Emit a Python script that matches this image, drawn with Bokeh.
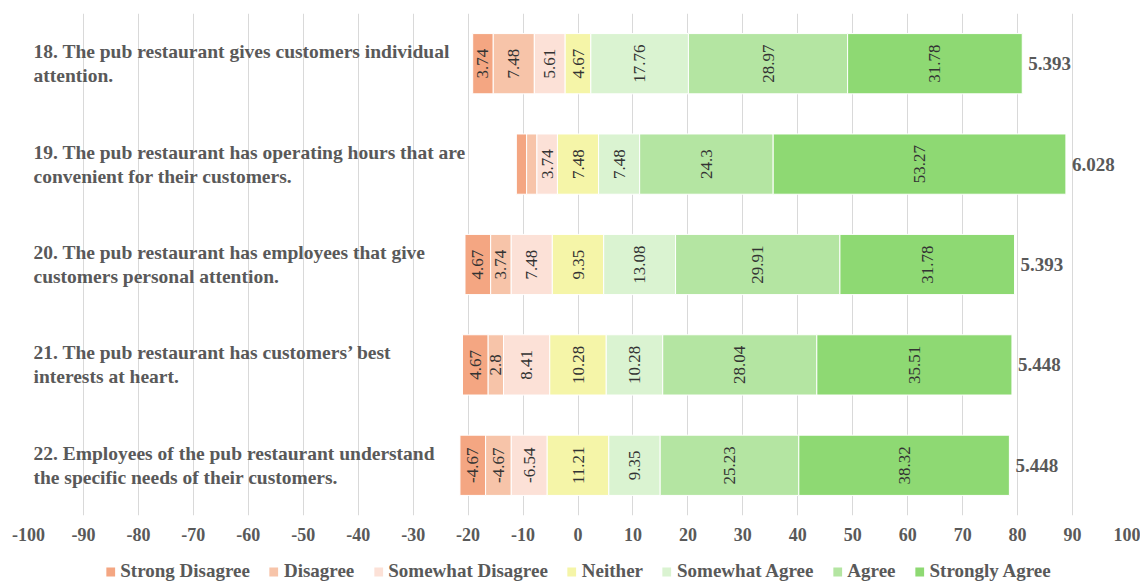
import math
from bokeh.plotting import figure
from bokeh.layouts import column
from bokeh.models import ColumnDataSource, Range1d, Legend, LegendItem, FixedTicker
from bokeh.core.properties import value
from bokeh.embed import file_html
from bokeh.resources import INLINE

questions = [
    "18. The pub restaurant gives customers individual\nattention.",
    "19. The pub restaurant has operating hours that are\nconvenient for their customers.",
    "20. The pub restaurant has employees  that give\ncustomers personal attention.",
    "21. The pub restaurant has customers\u2019 best\ninterests at heart.",
    "22. Employees of the pub restaurant understand\nthe specific needs of their customers.",
]
levels = ["Strong Disagree", "Disagree", "Somewhat Disagree", "Neither",
          "Somewhat Agree", "Agree", "Strongly Agree"]
# values as shown in the data labels (row 22 shows negative labels)
strong_disagree = [3.74, 1.87, 4.67, 4.67, -4.67]
disagree = [7.48, 1.87, 3.74, 2.8, -4.67]
somewhat_disagree = [5.61, 3.74, 7.48, 8.41, -6.54]
neither = [4.67, 7.48, 9.35, 10.28, 11.21]
somewhat_agree = [17.76, 7.48, 13.08, 10.28, 9.35]
agree = [28.97, 24.3, 29.91, 28.04, 25.23]
strongly_agree = [31.78, 53.27, 31.78, 35.51, 38.32]
means = ["5.393", "6.028", "5.393", "5.448", "5.448"]
x_ticks = list(range(-100, 101, 10))

colors = ["#F4A682", "#F7C4A9", "#FCE1D7", "#F5F5A8", "#DAF3D1", "#B4E5A2", "#8ED973"]
series = [strong_disagree, disagree, somewhat_disagree, neither,
          somewhat_agree, agree, strongly_agree]

SERIF = "Liberation Serif"
GRAY = "#595959"

n = len(questions)
ypos = [i + 0.5 for i in range(n)]

# diverging layout: Neither centred on 0
starts = []
for i in range(n):
    neg = abs(strong_disagree[i]) + abs(disagree[i]) + abs(somewhat_disagree[i])
    starts.append(-(neg + neither[i] / 2.0))

p = figure(frame_width=1099, frame_height=502, x_range=Range1d(-100, 100), y_range=Range1d(n, 0),
           output_backend="svg", toolbar_location=None,
           min_border_left=28, min_border_right=13, min_border_top=13, min_border_bottom=44)
p.outline_line_color = None
p.background_fill_color = "white"
p.border_fill_color = "white"

cur = list(starts)
lab_x, lab_y, lab_t = [], [], []
for k, vals in enumerate(series):
    lefts, rights = [], []
    for i in range(n):
        w = abs(vals[i])
        lefts.append(cur[i])
        rights.append(cur[i] + w)
        if w >= 2.5:
            lab_x.append(cur[i] + w / 2.0)
            lab_y.append(ypos[i])
            lab_t.append(("%g" % vals[i]))
        cur[i] += w
    src = ColumnDataSource(dict(y=ypos, left=lefts, right=rights))
    p.hbar(y="y", left="left", right="right", height=0.6, source=src,
           fill_color=colors[k], line_color="white", line_width=1)

# segment labels
p.text(x=lab_x, y=lab_y, text=lab_t, angle=math.pi / 2,
       text_align="center", text_baseline="middle",
       text_font=value(SERIF), text_font_size="17px", text_color="#333333")

# mean labels
p.text(x=cur, y=ypos, text=means, x_offset=6,
       text_align="left", text_baseline="middle",
       text_font=value(SERIF), text_font_size="19px", text_font_style="bold",
       text_color=GRAY)

# question labels
p.text(x=[-100] * n, y=ypos, text=questions, x_offset=5,
       text_align="left", text_baseline="middle", text_line_height=1.15,
       text_font=value(SERIF), text_font_size="19.5px", text_font_style="bold",
       text_color=GRAY)

p.yaxis.visible = False
p.ygrid.grid_line_color = None
p.xgrid.ticker = FixedTicker(ticks=x_ticks)
p.xgrid.grid_line_color = "#D9D9D9"
p.xgrid.grid_line_width = 1
p.xaxis.ticker = FixedTicker(ticks=x_ticks)
p.xaxis.major_label_overrides = {t: str(t) for t in x_ticks}
p.xaxis.axis_line_color = None
p.xaxis.major_tick_line_color = None
p.xaxis.minor_tick_line_color = None
p.xaxis.major_tick_out = 0
p.xaxis.major_tick_in = 0
p.xaxis.major_label_standoff = 12
p.xaxis.major_label_text_font = SERIF
p.xaxis.major_label_text_font_size = "18px"
p.xaxis.major_label_text_font_style = "bold"
p.xaxis.major_label_text_color = GRAY

# legend strip as its own small figure (legend-only renderers sit outside its view)
lg = figure(width=1140, height=24, x_range=Range1d(0, 1), y_range=Range1d(0, 1),
            output_backend="svg", toolbar_location=None, min_border=0)
lg.axis.visible = False
lg.grid.visible = False
lg.outline_line_color = None
items = []
for k in range(7):
    r = lg.rect(x=[-5], y=[-5], width=0.1, height=0.1, fill_color=colors[k], line_color=None)
    items.append(LegendItem(label=levels[k], renderers=[r]))
legend = Legend(items=items, orientation="horizontal", location="center",
                glyph_width=11, glyph_height=11, label_standoff=5, spacing=18,
                padding=0, margin=0, border_line_color=None, background_fill_alpha=0,
                label_text_font=SERIF, label_text_font_size="19px",
                label_text_font_style="bold", label_text_color=GRAY)
lg.add_layout(legend)

layout = column(p, lg, spacing=0)
open("out.html", "w").write(file_html(layout, INLINE))
